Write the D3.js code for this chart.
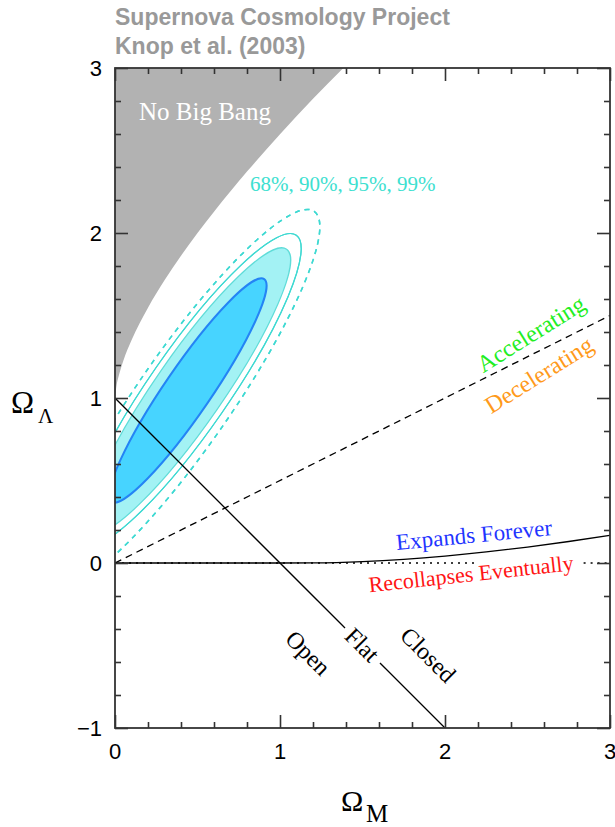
<!DOCTYPE html>
<html><head><meta charset="utf-8">
<script src="https://cdn.jsdelivr.net/npm/d3@7"></script>
<style>body{margin:0;background:#fff}svg{display:block}</style>
</head><body><svg id="c" width="615" height="827"></svg>
<script>
// ---------- data ----------
const xTickValues = [0, 1, 2, 3];
const xTickLabels = ["0", "1", "2", "3"];
const yTickValues = [-1, 0, 1, 2, 3];
const yTickLabels = ["\u22121", "0", "1", "2", "3"];
const xMinorTicks = [0.2,0.4,0.6,0.8,1.2,1.4,1.6,1.8,2.2,2.4,2.6,2.8];
const yMinorTicks = [-0.8,-0.6,-0.4,-0.2,0.2,0.4,0.6,0.8,1.2,1.4,1.6,1.8,2.2,2.4,2.6,2.8];

// "No Big Bang" boundary (Omega_M, Omega_Lambda)
const noBigBangM = [0, 0.01, 0.02, 0.05, 0.1, 0.2, 0.3, 0.4, 0.5, 0.6, 0.8, 1.0, 1.2, 1.384];
const noBigBangL = [1, 1.08, 1.124, 1.225, 1.35, 1.547, 1.713, 1.862, 2.0, 2.129, 2.372, 2.598, 2.813, 3.0];

// expands forever / recollapses boundary
const expandM = [0, 1, 1.2, 1.5, 1.75, 2, 2.25, 2.5, 2.75, 3];
const expandL = [0, 0, 0.0008, 0.0087, 0.0223, 0.0419, 0.0669, 0.0965, 0.1304, 0.1675];

// accelerating / decelerating line
const accelM = [0, 3];
const accelL = [0, 1.5];

// flat universe line (two pieces around the label)
const flatM1 = [0, 1.394], flatL1 = [1, -0.394];
const flatM2 = [1.606, 2], flatL2 = [-0.606, -1];

// dotted Omega_Lambda = 0 line pieces
const zeroM1 = [0, 2.19], zeroM2 = [2.84, 3];

// confidence contours: center (M, L), semi-axes (units), angle (deg)
const contourNames = ["99%", "95%", "90%", "68%"];
const contourCM = [0.4206, 0.447, 0.447, 0.442];
const contourCL = [0.9952, 1.0455, 1.0455, 1.0455];
const contourA  = [1.382, 1.145, 1.042, 0.818];
const contourB  = [0.285, 0.242, 0.207, 0.141];
const contourAngle = [55.3, 55.3, 55.3, 55.6];

// ---------- chart ----------
const svg = d3.select("#c");
const L = 115, T = 68, W = 495, H = 660;
const x = d3.scaleLinear().domain([0, 3]).range([L, L + W]);
const y = d3.scaleLinear().domain([-1, 3]).range([T + H, T]);

svg.append("defs").append("clipPath").attr("id", "clip")
  .append("rect").attr("x", L).attr("y", T).attr("width", W).attr("height", H);

const plot = svg.append("g").attr("clip-path", "url(#clip)");

// No Big Bang region
const nbb = noBigBangM.map((m, i) => [m, noBigBangL[i]]);
const area = d3.line().x(d => x(d[0])).y(d => y(d[1])).curve(d3.curveMonotoneX);
const nbbPath = area(nbb) + `L${x(0)},${y(3)}Z`;
plot.append("path").attr("d", nbbPath).attr("fill", "#b2b2b2").attr("stroke", "none");

// contours
const cStyles = [
  {fill: "none", stroke: "#3fd9d2", sw: 1.5, dash: "5,5"},
  {fill: "none", stroke: "#3fd9d2", sw: 1.2, dash: null},
  {fill: "#a3f2f4", stroke: "#5fdcd8", sw: 1.2, dash: null},
  {fill: "#47d4ff", stroke: "#2484f5", sw: 2, dash: null}
];
function drawContour(i, fill) {
  const cx = x(contourCM[i]), cy = y(contourCL[i]);
  const rx = x(contourA[i]) - x(0), ry = y(0) - y(contourB[i]);
  const st = cStyles[i];
  const e = plot.append("ellipse")
    .attr("cx", cx).attr("cy", cy).attr("rx", rx).attr("ry", ry)
    .attr("transform", `rotate(${-contourAngle[i]},${cx},${cy})`)
    .attr("fill", fill ? st.fill : "none").attr("stroke", st.stroke).attr("stroke-width", st.sw);
  if (st.dash) e.attr("stroke-dasharray", st.dash);
}
contourNames.forEach((n, i) => drawContour(i, true));
[0, 1].forEach(i => drawContour(i, false));

const line = d3.line().x(d => x(d[0])).y(d => y(d[1]));

// dotted zero line
[zeroM1, zeroM2].forEach(z => {
  plot.append("path").attr("d", line(z.map(m => [m, 0])))
    .attr("fill", "none").attr("stroke", "#000").attr("stroke-width", 1.3)
    .attr("stroke-dasharray", "2,5");
});

// expands forever curve
plot.append("path")
  .attr("d", d3.line().x(d => x(d[0])).y(d => y(d[1])).curve(d3.curveMonotoneX)(expandM.map((m, i) => [m, expandL[i]])))
  .attr("fill", "none").attr("stroke", "#000").attr("stroke-width", 1.3);

// accelerating line
plot.append("path").attr("d", line(accelM.map((m, i) => [m, accelL[i]])))
  .attr("fill", "none").attr("stroke", "#000").attr("stroke-width", 1.3)
  .attr("stroke-dasharray", "7,5");

// flat line
[[flatM1, flatL1], [flatM2, flatL2]].forEach(([ms, ls]) => {
  plot.append("path").attr("d", line(ms.map((m, i) => [m, ls[i]])))
    .attr("fill", "none").attr("stroke", "#000").attr("stroke-width", 1.3);
});

// frame
svg.append("rect").attr("x", L).attr("y", T).attr("width", W).attr("height", H)
  .attr("fill", "none").attr("stroke", "#333").attr("stroke-width", 1.8);

// ticks
function ticks(axis, tx, ty, vals, size) {
  const g = svg.append("g").attr("transform", `translate(${tx},${ty})`)
    .call(axis.tickValues(vals).tickSize(-size).tickFormat(""));
  g.select(".domain").remove();
  g.selectAll(".tick line").attr("stroke", "#333").attr("stroke-width", 1.6);
  g.selectAll("text").remove();
}
ticks(d3.axisBottom(x), 0, T + H, xTickValues, 13);
ticks(d3.axisBottom(x), 0, T + H, xMinorTicks, 6);
ticks(d3.axisTop(x), 0, T, xTickValues, 13);
ticks(d3.axisTop(x), 0, T, xMinorTicks, 6);
ticks(d3.axisLeft(y), L, 0, yTickValues, 13);
ticks(d3.axisLeft(y), L, 0, yMinorTicks, 6);
ticks(d3.axisRight(y), L + W, 0, yTickValues, 13);
ticks(d3.axisRight(y), L + W, 0, yMinorTicks, 6);

// tick labels
const sans = "'Liberation Sans', Arial, Helvetica, sans-serif";
const serif = "'Liberation Serif', 'Times New Roman', Times, serif";
svg.append("g").selectAll("text").data(xTickValues).join("text")
  .attr("x", d => x(d)).attr("y", T + H + 31).attr("text-anchor", "middle")
  .attr("font-family", sans).attr("font-size", 22).attr("fill", "#000")
  .text((d, i) => xTickLabels[i]);
svg.append("g").selectAll("text").data(yTickValues).join("text")
  .attr("x", 102).attr("y", d => y(d) + 8).attr("text-anchor", "end")
  .attr("font-family", sans).attr("font-size", 22).attr("fill", "#000")
  .text((d, i) => yTickLabels[i]);

// axis titles
svg.append("text").attr("x", 341).attr("y", 811).attr("font-family", serif)
  .attr("font-size", 30).text("\u03A9");
svg.append("text").attr("x", 366).attr("y", 822).attr("font-family", serif)
  .attr("font-size", 25).text("M");
svg.append("text").attr("x", 11).attr("y", 413).attr("font-family", serif)
  .attr("font-size", 31).text("\u03A9");
svg.append("text").attr("x", 38).attr("y", 423).attr("font-family", serif)
  .attr("font-size", 21).text("\u039B");

// title
svg.append("text").attr("x", 115).attr("y", 25).attr("font-family", sans)
  .attr("font-weight", "bold").attr("font-size", 23).attr("fill", "#999")
  .text("Supernova Cosmology Project");
svg.append("text").attr("x", 115).attr("y", 54).attr("font-family", sans)
  .attr("font-weight", "bold").attr("font-size", 23).attr("fill", "#999")
  .text("Knop et al. (2003)");

// annotations
function label(txt, cx, cy, rot, color, size) {
  svg.append("text").attr("transform", `translate(${cx},${cy}) rotate(${rot})`)
    .attr("text-anchor", "middle").attr("dy", "0.33em")
    .attr("font-family", serif).attr("font-size", size).attr("fill", color)
    .text(txt);
}
svg.append("text").attr("x", 139).attr("y", 120).attr("font-family", serif)
  .attr("font-size", 25).attr("fill", "#fff").text("No Big Bang");
svg.append("text").attr("x", 250).attr("y", 191).attr("font-family", serif)
  .attr("font-size", 21).attr("fill", "#3de0d0").text("68%, 90%, 95%, 99%");
label("Accelerating", 531, 334, -32, "#22ee22", 24);
label("Decelerating", 539, 375, -32, "#ff9a1a", 24);
label("Expands Forever", 474, 535, -5.5, "#1f35ff", 23);
label("Recollapses Eventually", 471, 574, -6.2, "#ff1515", 22);
label("Open", 308, 653, 45, "#000", 24);
label("Flat", 362, 645, 45, "#000", 24);
label("Closed", 428, 655, 45, "#000", 24);
</script>
</body></html>
